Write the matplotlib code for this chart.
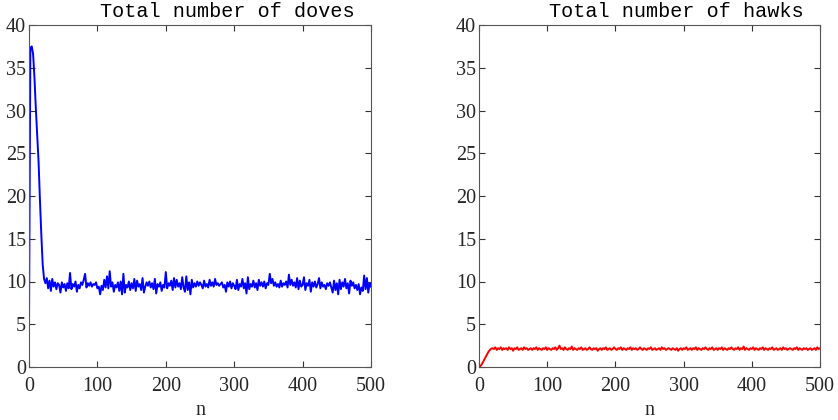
import numpy as np
import matplotlib
matplotlib.use('Agg')
import matplotlib.pyplot as plt

# time steps (sampled every 2)
n = np.arange(0, 501, 2)

doves = [
    5.0, 37.3, 37.5, 36.6, 33.8, 30.2, 27.0, 24.0, 19.5, 15.5,
    12.0, 10.3, 9.8, 10.4, 9.2, 10.1, 8.9, 10.3, 9.4, 9.9,
    9.1, 9.8, 9.6, 8.7, 9.9, 9.3, 9.7, 8.9, 9.8, 9.2,
    11.0, 9.1, 9.7, 9.4, 10.0, 8.8, 9.6, 9.2, 9.9, 9.6,
    10.2, 10.9, 9.3, 9.8, 9.5, 9.9, 9.4, 9.7, 9.6, 9.9,
    9.2, 9.4, 8.5, 9.5, 9.0, 10.2, 9.3, 10.6, 9.2, 11.2,
    9.4, 9.9, 8.8, 9.6, 9.3, 9.9, 8.9, 10.0, 8.5, 10.9,
    8.7, 9.6, 9.3, 10.0, 9.0, 9.8, 9.2, 10.3, 8.9, 10.1,
    9.4, 9.7, 9.0, 10.4, 8.7, 9.4, 9.9, 9.5, 10.0, 9.3,
    9.8, 9.1, 10.3, 8.6, 9.7, 9.4, 9.9, 8.9, 9.6, 9.3,
    11.1, 9.2, 9.8, 9.5, 10.1, 9.0, 10.4, 9.3, 10.2, 9.4,
    9.8, 9.1, 10.5, 9.3, 8.8, 10.6, 9.0, 9.9, 8.5, 10.2,
    9.3, 9.8, 9.4, 10.0, 9.5, 9.9, 9.6, 9.2, 10.1, 9.4,
    9.7, 9.3, 10.2, 9.5, 9.9, 9.4, 10.3, 9.6, 9.8, 9.5,
    9.7, 9.9, 9.3, 9.6, 8.8, 9.9, 9.4, 10.0, 9.2, 9.8,
    9.5, 9.1, 10.2, 9.0, 9.7, 9.4, 10.3, 9.2, 9.8, 8.6,
    10.5, 9.1, 9.7, 9.4, 10.1, 9.3, 9.8, 9.0, 10.2, 9.5,
    9.9, 9.4, 10.0, 9.2, 9.8, 9.6, 10.9, 9.8, 10.3, 9.5,
    9.9, 9.4, 9.7, 9.3, 10.1, 9.4, 9.8, 9.6, 10.0, 9.3,
    10.8, 9.6, 10.2, 9.5, 9.9, 9.3, 10.4, 9.1, 10.1, 9.4,
    9.6, 10.5, 9.0, 9.8, 9.5, 10.2, 8.8, 9.9, 9.4, 10.0,
    9.3, 9.7, 10.4, 9.2, 9.9, 9.4, 9.6, 9.1, 9.8, 9.5,
    9.9, 9.3, 8.7, 10.1, 9.0, 9.8, 8.5, 10.2, 9.1, 9.9,
    9.4, 10.3, 9.2, 9.8, 8.6, 10.1, 9.5, 9.9, 9.2, 9.6,
    9.0, 9.7, 8.5, 9.3, 8.9, 10.7, 9.1, 10.4, 8.7, 9.8,
    9.4,
]

hawks = [
    0.0, 0.1, 0.3, 0.6, 0.9, 1.2, 1.5, 1.8, 2.0, 2.15,
    2.2, 2.1, 2.3, 2.0, 2.2, 2.1, 2.3, 2.0, 2.2, 2.1,
    2.2, 2.0, 2.3, 2.1, 2.2, 1.9, 2.2, 2.1, 2.3, 2.0,
    2.1, 2.2, 2.0, 2.3, 2.1, 2.2, 2.0, 2.1, 2.2, 2.0,
    2.2, 2.1, 2.3, 2.0, 2.2, 2.1, 2.0, 2.2, 2.1, 2.3,
    2.0, 2.2, 2.1, 2.0, 2.2, 2.1, 2.3, 2.0, 2.2, 2.5,
    2.1, 2.2, 2.0, 2.3, 2.1, 2.0, 2.2, 2.1, 2.4, 2.0,
    2.2, 2.1, 2.0, 2.2, 2.1, 2.3, 2.0, 2.1, 2.2, 2.0,
    2.1, 2.3, 2.1, 2.0, 2.2, 2.1, 2.2, 1.9, 2.1, 2.2,
    2.0, 2.2, 2.1, 2.3, 2.0, 2.1, 2.2, 2.0, 2.1, 2.3,
    2.1, 2.0, 2.2, 2.1, 2.3, 2.0, 2.2, 2.1, 2.0, 2.2,
    2.1, 2.3, 2.0, 2.2, 2.1, 2.2, 2.0, 2.1, 2.3, 2.1,
    2.0, 2.2, 2.1, 2.0, 2.2, 2.1, 2.3, 2.0, 2.1, 2.2,
    2.0, 2.1, 2.2, 2.0, 2.3, 2.1, 2.2, 2.0, 2.1, 2.2,
    2.1, 2.0, 2.2, 2.1, 2.0, 2.2, 1.9, 2.1, 2.2, 2.0,
    2.2, 2.1, 2.3, 2.0, 2.1, 2.2, 2.0, 2.2, 2.1, 2.3,
    2.0, 2.2, 2.1, 2.0, 2.2, 2.1, 2.3, 2.1, 2.0, 2.2,
    2.1, 2.3, 2.0, 2.1, 2.2, 2.0, 2.2, 2.1, 2.3, 2.0,
    2.2, 2.1, 2.0, 2.2, 2.1, 2.3, 2.1, 2.0, 2.2, 2.1,
    2.3, 2.0, 2.2, 2.1, 2.4, 2.0, 2.2, 2.1, 2.0, 2.2,
    2.1, 2.3, 2.0, 2.2, 2.1, 2.0, 2.2, 2.1, 2.3, 2.0,
    2.2, 2.1, 2.0, 2.2, 2.1, 2.3, 2.0, 2.1, 2.2, 2.0,
    2.1, 2.2, 2.0, 2.3, 2.1, 2.2, 2.0, 2.1, 2.2, 2.1,
    2.0, 2.2, 2.1, 2.3, 2.0, 2.2, 2.1, 2.0, 2.2, 2.1,
    2.2, 2.0, 2.1, 2.2, 2.0, 2.1, 2.2, 2.0, 2.3, 2.1,
    2.2,
]

titles = ['Total number of doves', 'Total number of hawks']
colors = ['#0000ff', '#ff0000']
xticks = [0, 100, 200, 300, 400, 500]
yticks = [0, 5, 10, 15, 20, 25, 30, 35, 40]

W, H = 838, 420
fig = plt.figure(figsize=(W / 100, H / 100), dpi=100)
axes = [fig.add_axes([29 / W, 53 / H, 342 / W, 342 / H]),
        fig.add_axes([479 / W, 53 / H, 341 / W, 342 / H])]

for ax, y, title, c in zip(axes, [doves, hawks], titles, colors):
    ax.plot(n, y, color=c, lw=1.4)
    ax.set_xlim(0, 500)
    ax.set_ylim(0, 40)
    ax.set_xticks(xticks)
    ax.set_yticks(yticks)
    ax.tick_params(direction='in', top=True, right=True, length=4,
                   width=0.8, color='#333333', labelcolor='#262626',
                   labelsize=14.5)
    ax.tick_params(axis='x', pad=7)
    ax.tick_params(axis='y', pad=2)
    for lbl in ax.get_xticklabels() + ax.get_yticklabels():
        lbl.set_family('Liberation Serif')
    for s in ax.spines.values():
        s.set_color('#555555')
        s.set_linewidth(0.8)
    ax.set_xlabel('n', family='Liberation Serif', fontsize=14.5,
                  color='#262626', labelpad=4)
    ax.set_title(title, family='Liberation Mono', fontsize=14.5,
                 x=0.58, pad=6)

fig.savefig('out.png', dpi=100)
